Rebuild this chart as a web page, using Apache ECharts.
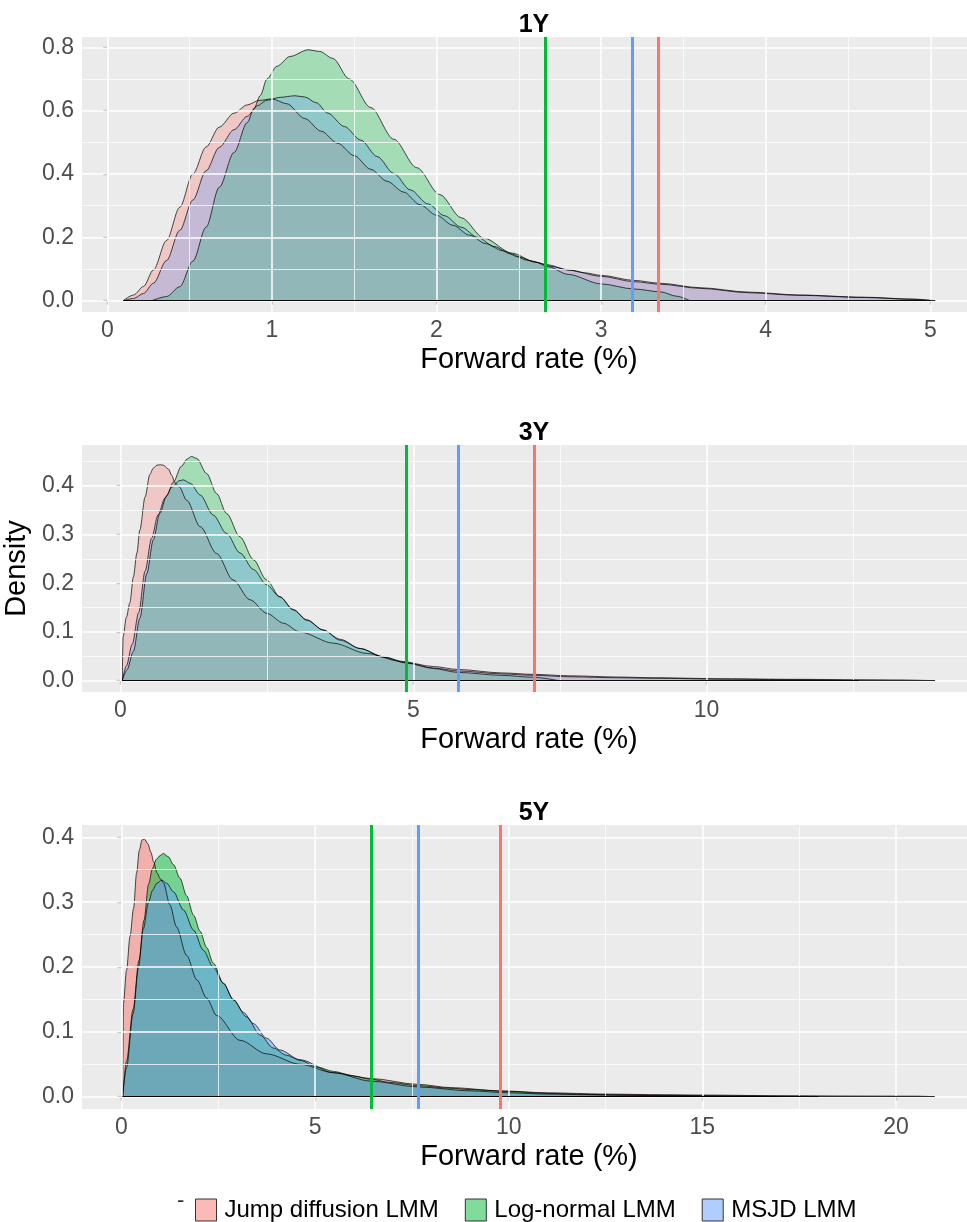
<!DOCTYPE html>
<html>
<head>
<meta charset="utf-8">
<script src="https://cdn.jsdelivr.net/npm/echarts@6/dist/echarts.min.js"></script>
<style>
  html, body { margin: 0; padding: 0; background: #ffffff; }
  #chart { width: 967px; height: 1222px; }
</style>
</head>
<body>
<div id="chart"></div>
<script>
// Model names and panel titles
const seriesNames = ['Jump diffusion LMM', 'Log-normal LMM', 'MSJD LMM'];
const panelTitles = ['1Y', '3Y', '5Y'];

// Kernel density estimates: [forward rate (%), density]
const jump1Y = [[0.097,0],[0.16,0.018],[0.22,0.045],[0.28,0.097],[0.36,0.19],[0.44,0.295],[0.52,0.4],[0.6,0.485],[0.68,0.548],[0.77,0.592],[0.85,0.618],[0.92,0.632],[1.0,0.637],[1.09,0.622],[1.2,0.575],[1.3,0.535],[1.4,0.497],[1.5,0.458],[1.6,0.415],[1.7,0.377],[1.8,0.343],[1.9,0.303],[2.0,0.27],[2.1,0.238],[2.2,0.207],[2.3,0.18],[2.4,0.158],[2.5,0.138],[2.6,0.122],[2.7,0.108],[2.8,0.097],[2.9,0.088],[3.0,0.08],[3.2,0.064],[3.36,0.055],[3.6,0.041],[3.9,0.027],[4.2,0.018],[4.6,0.011],[4.9,0.005],[5.03,0]];
const lognormal1Y = [[0.27,0],[0.36,0.013],[0.44,0.044],[0.52,0.125],[0.6,0.232],[0.68,0.358],[0.77,0.468],[0.85,0.562],[0.89,0.605],[0.93,0.648],[0.97,0.7],[1.03,0.74],[1.11,0.771],[1.22,0.792],[1.29,0.787],[1.37,0.765],[1.47,0.7],[1.6,0.61],[1.74,0.51],[1.88,0.42],[2.02,0.335],[2.15,0.262],[2.29,0.197],[2.46,0.15],[2.6,0.122],[2.68,0.107],[2.8,0.083],[3.0,0.053],[3.2,0.037],[3.36,0.028],[3.46,0.014],[3.54,0]];
const msjd1Y = [[0.097,0],[0.16,0.007],[0.22,0.023],[0.28,0.055],[0.36,0.127],[0.44,0.222],[0.52,0.318],[0.6,0.41],[0.68,0.484],[0.77,0.54],[0.85,0.582],[0.91,0.615],[0.97,0.633],[1.05,0.642],[1.14,0.647],[1.2,0.643],[1.27,0.625],[1.34,0.592],[1.44,0.55],[1.54,0.507],[1.64,0.455],[1.74,0.402],[1.84,0.35],[1.95,0.305],[2.05,0.268],[2.15,0.232],[2.25,0.2],[2.35,0.171],[2.45,0.148],[2.55,0.128],[2.67,0.114],[2.8,0.097],[3.0,0.077],[3.2,0.06],[3.36,0.052],[3.6,0.039],[3.9,0.025],[4.2,0.017],[4.6,0.01],[4.9,0.004],[5.0,0]];

const jump3Y = [[0.03,0],[0.045,0.09],[0.1,0.13],[0.16,0.16],[0.22,0.213],[0.28,0.262],[0.33,0.309],[0.42,0.377],[0.5,0.423],[0.56,0.436],[0.62,0.442],[0.68,0.443],[0.73,0.442],[0.82,0.434],[0.87,0.422],[0.93,0.406],[1.0,0.398],[1.13,0.37],[1.36,0.316],[1.64,0.261],[1.92,0.207],[2.21,0.166],[2.5,0.138],[2.78,0.118],[3.06,0.1],[3.63,0.077],[4.2,0.056],[4.77,0.04],[5.34,0.029],[5.76,0.023],[6.5,0.016],[7.05,0.013],[7.67,0.01],[8.5,0.0075],[9.1,0.006],[10.3,0.004],[11.5,0.0028],[12.6,0.002],[13.3,0.0015],[13.9,0]];
const lognormal3Y = [[0.03,0],[0.11,0.022],[0.22,0.06],[0.33,0.128],[0.45,0.22],[0.56,0.289],[0.67,0.343],[0.79,0.38],[0.9,0.407],[1.04,0.44],[1.14,0.455],[1.21,0.46],[1.3,0.456],[1.47,0.425],[1.64,0.384],[1.81,0.343],[2.04,0.295],[2.27,0.248],[2.49,0.207],[2.72,0.172],[2.95,0.145],[3.18,0.124],[3.46,0.104],[3.75,0.083],[4.09,0.066],[4.49,0.049],[4.88,0.037],[5.34,0.025],[5.76,0.017],[6.5,0.011],[7.05,0.007],[7.48,0]];
const msjd3Y = [[0.03,0],[0.1,0.03],[0.2,0.075],[0.31,0.14],[0.42,0.225],[0.53,0.292],[0.64,0.34],[0.76,0.375],[0.88,0.397],[1.0,0.41],[1.07,0.412],[1.19,0.405],[1.36,0.381],[1.58,0.34],[1.81,0.302],[2.04,0.262],[2.27,0.228],[2.49,0.197],[2.72,0.172],[2.95,0.146],[3.18,0.125],[3.46,0.104],[3.75,0.085],[4.09,0.066],[4.49,0.048],[4.88,0.036],[5.34,0.026],[5.76,0.02],[6.5,0.014],[7.05,0.011],[7.67,0.008],[8.5,0.006],[9.1,0.005],[10.3,0.003],[11.5,0.002],[12.6,0]];

const jump5Y = [[0.03,0],[0.05,0.144],[0.13,0.195],[0.22,0.247],[0.31,0.29],[0.39,0.345],[0.46,0.38],[0.53,0.396],[0.6,0.397],[0.68,0.39],[0.76,0.377],[0.83,0.362],[0.92,0.345],[1.0,0.336],[1.08,0.33],[1.25,0.296],[1.42,0.262],[1.68,0.218],[1.95,0.18],[2.2,0.152],[2.46,0.125],[3.06,0.087],[3.75,0.066],[4.61,0.05],[5.47,0.037],[6.44,0.028],[7.66,0.019],[8.5,0.014],[9.79,0.009],[11,0.006],[12.5,0.004],[14,0.003],[15,0.0025],[17,0.0015],[19,0.001],[20.5,0.0008],[21,0]];
const lognormal5Y = [[0.03,0],[0.13,0.055],[0.3,0.135],[0.45,0.21],[0.58,0.272],[0.7,0.328],[0.8,0.352],[0.9,0.366],[1.0,0.372],[1.08,0.375],[1.21,0.37],[1.34,0.358],[1.51,0.337],[1.68,0.31],[1.86,0.28],[2.03,0.255],[2.2,0.23],[2.37,0.206],[2.63,0.175],[2.89,0.149],[3.23,0.123],[3.58,0.095],[3.92,0.075],[4.26,0.064],[4.61,0.056],[5.04,0.046],[5.47,0.039],[5.99,0.032],[6.44,0.027],[6.93,0.022],[7.66,0.017],[8.5,0.013],[9,0.011],[10,0.008],[11,0.005],[12.5,0.003],[14,0.002],[16,0.001],[18,0]];
const msjd5Y = [[0.03,0],[0.13,0.045],[0.3,0.128],[0.44,0.2],[0.56,0.258],[0.7,0.3],[0.8,0.318],[0.91,0.329],[1.04,0.334],[1.17,0.329],[1.34,0.316],[1.6,0.288],[1.86,0.257],[2.11,0.226],[2.37,0.2],[2.63,0.175],[2.89,0.15],[3.15,0.13],[3.4,0.113],[3.75,0.09],[4.09,0.072],[4.61,0.057],[5.47,0.037],[6.44,0.024],[7.66,0.015],[9,0.009],[10,0.006],[11,0.004],[12,0.003],[13,0.002],[15.5,0.001],[17,0]];

// Reference levels per model (jump, log-normal, MSJD)
const levels1Y = [3.355, 2.66, 3.19];
const levels3Y = [7.06, 4.88, 5.76];
const levels5Y = [9.79, 6.44, 7.66];

// Axis breaks
const xTicks1Y = [0, 1, 2, 3, 4, 5];
const xMinor1Y = [0.5, 1.5, 2.5, 3.5, 4.5];
const yTicks1Y = [0, 0.2, 0.4, 0.6, 0.8];
const yMinor1Y = [0.1, 0.3, 0.5, 0.7];
const xTicks3Y = [0, 5, 10];
const xMinor3Y = [2.5, 7.5, 12.5];
const yTicks3Y = [0, 0.1, 0.2, 0.3, 0.4];
const yMinor3Y = [0.05, 0.15, 0.25, 0.35, 0.45];
const xTicks5Y = [0, 5, 10, 15, 20];
const xMinor5Y = [2.5, 7.5, 12.5, 17.5];
const yTicks5Y = [0, 0.1, 0.2, 0.3, 0.4];
const yMinor5Y = [0.05, 0.15, 0.25, 0.35];

const palette = ['#F8766D', '#00BA38', '#619CFF'];
const FONT = '"Liberation Sans", Arial, sans-serif';

const panels = [
  { data: [jump1Y, lognormal1Y, msjd1Y], levels: levels1Y, xTicks: xTicks1Y, xMinor: xMinor1Y, yTicks: yTicks1Y, yMinor: yMinor1Y,
    top: 37, height: 275, xRange: [-0.1537, 5.223], yRange: [-0.0357, 0.8325], alpha: 0.3, titleTop: 8 },
  { data: [jump3Y, lognormal3Y, msjd3Y], levels: levels3Y, xTicks: xTicks3Y, xMinor: xMinor3Y, yTicks: yTicks3Y, yMinor: yMinor3Y,
    top: 445, height: 247, xRange: [-0.657, 14.445], yRange: [-0.0232, 0.4835], alpha: 0.3, titleTop: 416 },
  { data: [jump5Y, lognormal5Y, msjd5Y], levels: levels5Y, xTicks: xTicks5Y, xMinor: xMinor5Y, yTicks: yTicks5Y, yMinor: yMinor5Y,
    top: 825, height: 284, xRange: [-1.02, 21.834], yRange: [-0.019, 0.419], alpha: 0.5, titleTop: 796 }
];

function hexToRgba(hex, a) {
  const n = parseInt(hex.slice(1), 16);
  return 'rgba(' + ((n >> 16) & 255) + ',' + ((n >> 8) & 255) + ',' + (n & 255) + ',' + a + ')';
}

const grids = [], xAxes = [], yAxes = [], series = [], titles = [];

panels.forEach((p, i) => {
  grids.push({ left: 82, right: 0, top: p.top, height: p.height, show: true,
    backgroundColor: '#EBEBEB', borderWidth: 0, outerBoundsMode: 'none' });

  xAxes.push({
    type: 'value', gridIndex: i, min: p.xRange[0], max: p.xRange[1],
    axisLine: { show: false },
    splitLine: { show: false },
    axisTick: { show: true, customValues: p.xTicks, length: 4, lineStyle: { color: '#333333', width: 1.1 } },
    axisLabel: { customValues: p.xTicks, margin: 7, fontSize: 23, color: '#4D4D4D', fontFamily: FONT,
      formatter: v => String(v) },
    name: 'Forward rate (%)', nameLocation: 'middle', nameGap: 33,
    nameTextStyle: { fontSize: 29, color: '#000', fontFamily: FONT, padding: [0, 0, 0, 9] }
  });

  yAxes.push({
    type: 'value', gridIndex: i, min: p.yRange[0], max: p.yRange[1],
    axisLine: { show: false },
    splitLine: { show: false },
    axisTick: { show: true, customValues: p.yTicks, length: 4, lineStyle: { color: '#333333', width: 1.1 } },
    axisLabel: { customValues: p.yTicks, margin: 8, fontSize: 23, color: '#4D4D4D', fontFamily: FONT,
      formatter: v => v.toFixed(1) },
    name: i === 1 ? 'Density' : '', nameLocation: 'middle', nameRotate: 90, nameGap: 46,
    nameTextStyle: { fontSize: 29, color: '#000', fontFamily: FONT }
  });

  // background grid lines
  const major = { color: '#FFFFFF', width: 1.5, type: 'solid' };
  const minor = { color: '#FFFFFF', width: 0.75, type: 'solid' };
  series.push({
    type: 'line', data: [], xAxisIndex: i, yAxisIndex: i, z: 1, silent: true,
    markLine: {
      silent: true, symbol: 'none', animation: false, label: { show: false },
      emphasis: { disabled: true },
      data: [].concat(
        p.yMinor.map(v => ({ yAxis: v, lineStyle: minor })),
        p.xMinor.map(v => ({ xAxis: v, lineStyle: minor })),
        p.yTicks.map(v => ({ yAxis: v, lineStyle: major })),
        p.xTicks.map(v => ({ xAxis: v, lineStyle: major }))
      )
    }
  });

  // density curves
  p.data.forEach((d, k) => {
    series.push({
      type: 'line', name: seriesNames[k], data: d, xAxisIndex: i, yAxisIndex: i,
      symbol: 'none', smooth: 0.3, smoothMonotone: 'x', z: 2, silent: true,
      lineStyle: { color: '#000000', width: 0.7 },
      itemStyle: { color: palette[k] },
      areaStyle: { color: palette[k], opacity: p.alpha },
      emphasis: { disabled: true },
      markLine: {
        silent: true, symbol: 'none', animation: false, label: { show: false },
        lineStyle: { color: '#000000', width: 0.8, type: 'solid' },
        data: [[{ coord: [d[0][0], 0] }, { coord: [d[d.length - 1][0], 0] }]]
      }
    });
  });

  // vertical reference levels
  series.push({
    type: 'line', data: [], xAxisIndex: i, yAxisIndex: i, z: 3, silent: true,
    markLine: {
      silent: true, symbol: 'none', animation: false, label: { show: false },
      emphasis: { disabled: true },
      data: p.levels.map((v, k) => ({ xAxis: v, lineStyle: { color: palette[k], width: 3, type: 'solid' } }))
    }
  });

  titles.push({ text: panelTitles[i], left: 529, top: p.titleTop, textAlign: 'center',
    textStyle: { fontSize: 25, fontWeight: 'bold', color: '#000', fontFamily: FONT } });
});

const chart = echarts.init(document.getElementById('chart'), null, { renderer: 'canvas' });
chart.setOption({
  animation: false,
  backgroundColor: '#FFFFFF',
  title: titles,
  grid: grids,
  xAxis: xAxes,
  yAxis: yAxes,
  legend: {
    top: 1193, left: 190, icon: 'rect', itemWidth: 21, itemHeight: 22, itemGap: 26,
    selectedMode: false,
    textStyle: { fontSize: 24, color: '#000', fontFamily: FONT, padding: [0, 0, 0, 3] },
    data: seriesNames.map((n, k) => ({
      name: n,
      itemStyle: { color: hexToRgba(palette[k], 0.5), borderColor: '#333333', borderWidth: 1 }
    }))
  },
  graphic: [{
    type: 'text', left: 177, top: 1190,
    style: { text: '-', fontSize: 22, fill: '#333333', fontFamily: FONT }
  }],
  series: series
});
</script>
</body>
</html>
